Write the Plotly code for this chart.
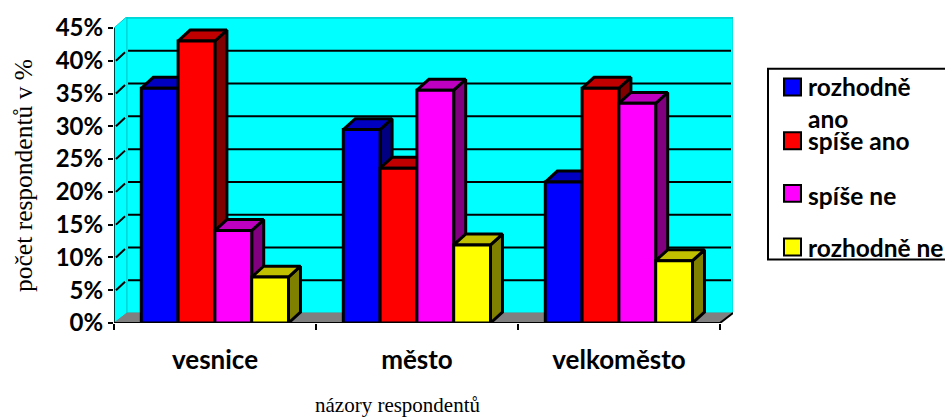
import plotly.graph_objects as go

categories = ["vesnice", "město", "velkoměsto"]
series_names = ["rozhodně ano", "spíše ano", "spíše ne", "rozhodně ne"]
rozhodne_ano = [35.8, 29.5, 21.5]
spise_ano = [43.0, 23.6, 35.8]
spise_ne = [14.1, 35.5, 33.5]
rozhodne_ne = [7.0, 11.9, 9.5]
y_ticks = [0, 5, 10, 15, 20, 25, 30, 35, 40, 45]

front_colors = ["#0000FF", "#FF0000", "#FF00FF", "#FFFF00"]
side_colors = ["#000080", "#800000", "#800080", "#808000"]
top_colors = ["#0000C0", "#C00000", "#C000C0", "#C0C000"]

W, H = 945, 418
L, R, T, B = 114, 733, 15, 323      # plot area in pixels
CAT_PX = 202.0                      # one category in pixels
PCT_PX = 6.6                        # one percent in pixels
X_MAX = (R - L) / CAT_PX
Y_MAX = (B - T) / PCT_PX
DX = 13 / CAT_PX                    # wall depth
DY = 10 / PCT_PX
WALL_EXTRA = 1.5 / PCT_PX
BDX = 12 / CAT_PX                   # bar depth
BDY = 11 / PCT_PX
BAR_W = 36.8 / CAT_PX
FIRST = 27.3 / CAT_PX


def px(x):
    return (x - L) / (R - L)


def py(y):
    return (B - y) / (B - T)


fig = go.Figure()


def poly(xs, ys, fill, line="#000000", width=3):
    fig.add_trace(go.Scatter(
        x=xs, y=ys, mode="lines", fill="toself" if fill else None,
        fillcolor=fill, line=dict(color=line, width=width),
        hoverinfo="skip", showlegend=False, cliponaxis=False))


n = len(categories)
top = 45 + DY + WALL_EXTRA
# walls and floor
poly([0, DX, DX, 0, 0], [0, DY, top, 45, 0], "#00FFFF", "#00CCCC", 1)
poly([DX, n + DX, n + DX, DX, DX], [DY, DY, top, top, DY], "#00FFFF", "#00CCCC", 1)
poly([0, n, n + DX, DX, 0], [0, 0, DY, DY, 0], "#808080", "#808080", 1)

# gridlines and side-wall ticks
for v in y_ticks[1:-1]:
    poly([DX + 1 / CAT_PX, n + DX - 2 / CAT_PX], [v + DY, v + DY], None, width=2)
    poly([2 / CAT_PX, DX - 2 / CAT_PX], [v, v + DY - 1.5 / PCT_PX], None, width=2)
poly([DX, n + DX], [45 + DY, 45 + DY], None, "#00B4B4", 1)

# axis lines
poly([0, 0], [0, 45], None, "#004040", 2)
poly([0, n], [0, 0], None, "#000000", 2)
poly([n, n + DX], [0, DY], None, "#000000", 2)

# bars, back to front
all_values = [rozhodne_ano, spise_ano, spise_ne, rozhodne_ne]
for c in range(n):
    for s, values in enumerate(all_values):
        v = values[c]
        x0 = c + FIRST + s * BAR_W
        x1 = x0 + BAR_W
        poly([x1, x1 + BDX, x1 + BDX, x1, x1], [0, BDY, v + BDY, v, 0], side_colors[s])
        poly([x0, x1, x1 + BDX, x0 + BDX, x0], [v, v, v + BDY, v + BDY, v], top_colors[s])
        poly([x0, x1, x1, x0, x0], [0, 0, v, v, 0], front_colors[s])

# legend
shapes = [dict(type="rect", xref="paper", yref="paper",
               x0=px(768), x1=px(960), y0=py(67), y1=py(259),
               line=dict(color="#000000", width=2), fillcolor="rgba(255,255,255,0)")]
legend_box_y = [77, 131, 184, 238]
for i, y in enumerate(legend_box_y):
    shapes.append(dict(type="rect", xref="paper", yref="paper",
                       x0=px(784), x1=px(801), y0=py(y), y1=py(y + 17),
                       line=dict(color="#000000", width=2), fillcolor=front_colors[i]))

annots = []


def text(s, x, y, size, family, bold=False, xanchor="left", angle=0):
    annots.append(dict(
        text=f"<b>{s}</b>" if bold else s, x=px(x), y=py(y), xref="paper", yref="paper",
        xanchor=xanchor, yanchor="middle", showarrow=False, textangle=angle,
        font=dict(size=size, family=family, color="#000000")))


LEG_FONT = "Lato"
text("rozhodně", 806, 85, 24.5, LEG_FONT, True)
text("ano", 806, 117, 24.5, LEG_FONT, True)
text("spíše ano", 806, 139, 24.5, LEG_FONT, True)
text("spíše ne", 806, 195, 24.5, LEG_FONT, True)
text("rozhodně ne", 806, 247, 24.5, LEG_FONT, True)
text("počet respondentů v %", 24, 175, 25.5, "Liberation Serif", angle=-90, xanchor="center")
text("názory respondentů", 398, 406, 21, "Liberation Serif", xanchor="center")

fig.update_layout(
    width=W, height=H, autosize=False,
    margin=dict(l=L, r=W - R, t=T, b=H - B, pad=0),
    paper_bgcolor="#FFFFFF", plot_bgcolor="#FFFFFF",
    showlegend=False, shapes=shapes, annotations=annots,
    xaxis=dict(
        range=[0, X_MAX], showgrid=False, zeroline=False, showline=False,
        tickvals=[i + 0.5 for i in range(n)], ticktext=categories, ticks="",
        ticklabelstandoff=19,
        tickfont=dict(size=26, family="Lato", color="#000000", weight="bold"),
        minor=dict(tickvals=list(range(n + 1)), ticks="outside", ticklen=6,
                   tickwidth=2, tickcolor="#000000", showgrid=False)),
    yaxis=dict(
        range=[0, Y_MAX], showgrid=False, zeroline=False, showline=False,
        tickvals=y_ticks, ticktext=[f"{v}%" for v in y_ticks],
        ticks="outside", ticklen=5, tickwidth=2, tickcolor="#000000",
        tickfont=dict(size=24, family="Lato", color="#000000", weight="bold")),
)

fig.write_html("out.html", config={"displayModeBar": False},
               post_script="document.body.style.margin='0';")
